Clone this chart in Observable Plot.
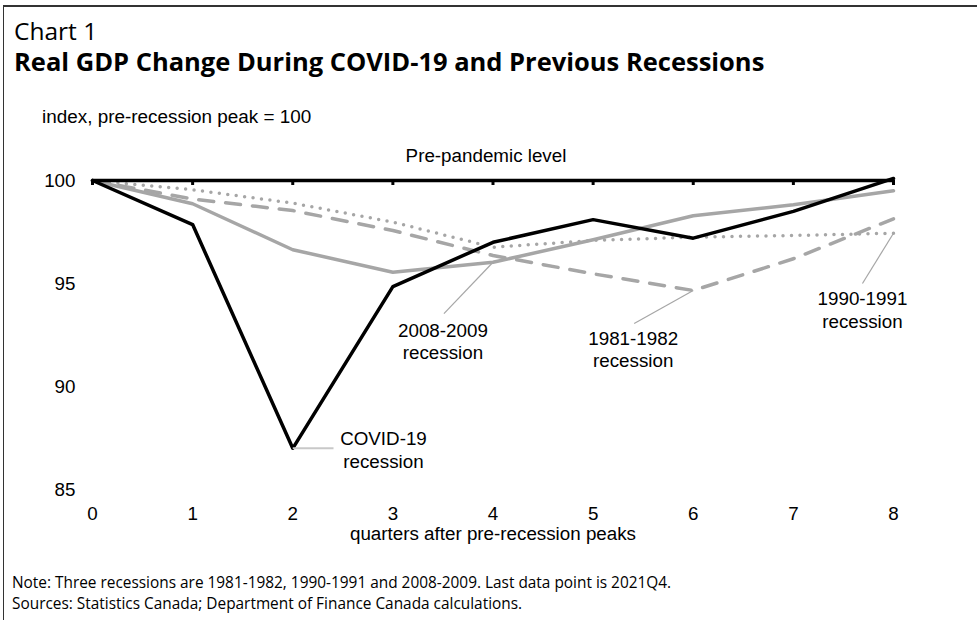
<!DOCTYPE html>
<html>
<head>
<meta charset="utf-8">
<script src="https://cdn.jsdelivr.net/npm/d3@7"></script>
<script src="https://cdn.jsdelivr.net/npm/@observablehq/plot@0.6"></script>
<style>
  html, body { margin: 0; padding: 0; background: #fff; }
  #wrap { position: relative; width: 977px; height: 620px; overflow: hidden; background: #fff; }
  #border { position: absolute; left: 3px; top: 5px; width: 1000px; height: 700px; border-left: 1.5px solid #333; border-top: 2px solid #333; box-sizing: border-box; }
  .t { position: absolute; white-space: nowrap; line-height: 1; color: #000; }
  #chartno { left: 14px; top: 14.2px; font: 24.5px "Open Sans", sans-serif; }
  #title { left: 14px; top: 44px; font: bold 25.5px "Open Sans", sans-serif; }
  #sub { left: 42px; top: 105.5px; font: 18.9px "Liberation Sans", Arial, sans-serif; }
  #note { left: 12px; top: 572.3px; font: 15.4px "Open Sans", sans-serif; }
  #src { left: 12px; top: 593.3px; font: 15.4px "Open Sans", sans-serif; }
  #plot { position: absolute; left: 0; top: 140px; }
</style>
</head>
<body>
<div id="wrap">
  <div id="border"></div>
  <div class="t" id="chartno">Chart 1</div>
  <div class="t" id="title">Real GDP Change During COVID-19 and Previous Recessions</div>
  <div class="t" id="sub">index, pre-recession peak = 100</div>
  <div id="plot"></div>
  <div class="t" id="note">Note: Three recessions are 1981-1982, 1990-1991 and 2008-2009. Last data point is 2021Q4.</div>
  <div class="t" id="src">Sources: Statistics Canada; Department of Finance Canada calculations.</div>
</div>
<script>
// ---- data ----
const quarters = [0, 1, 2, 3, 4, 5, 6, 7, 8];
const yTicks = [85, 90, 95, 100];
const seriesNames = ["1981-1982", "1990-1991", "2008-2009", "COVID-19"];
const rec1981 = [100, 99.1, 98.54, 97.57, 96.36, 95.47, 94.66, 96.2, 98.14];
const rec1990 = [100, 99.55, 98.9, 97.98, 96.76, 97.09, 97.25, 97.33, 97.44];
const rec2008 = [100, 98.87, 96.64, 95.55, 96.03, 97.12, 98.29, 98.82, 99.5];
const covid   = [100, 97.86, 87.0, 94.85, 97.0, 98.1, 97.2, 98.5, 100.1];
const prePandemicLevel = 100;
const prePandemicLabel = "Pre-pandemic level";
const xLabel = "quarters after pre-recession peaks";

// annotations: label text, series, quarter of the pointed-at value, label centre, leader end
const annoLabels  = ["COVID-19\nrecession", "2008-2009\nrecession", "1981-1982\nrecession", "1990-1991\nrecession"];
const annoSeries  = ["COVID-19", "2008-2009", "1981-1982", "1990-1991"];
const annoQuarter = [2, 4, 6, 8];
const annoTextX   = [2.906, 3.50, 5.40, 7.69];
const annoTextY   = [86.94, 92.23, 91.82, 93.74];
const leaderEndX  = [2.407, 3.51, 5.41, 7.69];
const leaderEndY  = [87.0, 93.54, 93.06, 95.0];
const leaderColor = ["#c8c8c8", "#a6a6a6", "#a6a6a6", "#a6a6a6"];
const leaderWidth = [2, 1.2, 1.2, 1.2];

// ---- build tables ----
const valuesBySeries = {"1981-1982": rec1981, "1990-1991": rec1990, "2008-2009": rec2008, "COVID-19": covid};
const table = seriesNames.flatMap(s => quarters.map((q, i) => ({series: s, q, v: valuesBySeries[s][i]})));
const annotations = annoLabels.map((label, i) => ({
  label,
  tx: annoTextX[i], ty: annoTextY[i],
  lx: leaderEndX[i], ly: leaderEndY[i],
  px: annoQuarter[i], py: valuesBySeries[annoSeries[i]][quarters.indexOf(annoQuarter[i])],
  lc: leaderColor[i], lw: leaderWidth[i]
}));

const gray = "#a6a6a6";
const sel = s => table.filter(d => d.series === s);

const chart = Plot.plot({
  width: 977,
  height: 410,
  marginLeft: 92,
  marginRight: 84,
  marginTop: 40,
  marginBottom: 61,
  x: {domain: [0, 8], label: null},
  y: {domain: [85, 100], label: null},
  style: {fontFamily: "'Liberation Sans', Arial, sans-serif", fontSize: "18.8px", color: "#000", background: "transparent", overflow: "visible"},
  marks: [
    Plot.axisY(yTicks, {tickSize: 0, tickPadding: 17, label: null}),
    Plot.axisX(quarters, {tickSize: 0, tickPadding: 17, label: null}),
    Plot.text([xLabel], {frameAnchor: "bottom", dy: 44, text: d => d, lineAnchor: "middle"}),
    Plot.line(sel("1981-1982"), {x: "q", y: "v", stroke: gray, strokeWidth: 3.5, strokeDasharray: "15,12", strokeLinejoin: "round"}),
    Plot.line(sel("1990-1991"), {x: "q", y: "v", stroke: gray, strokeWidth: 3.5, strokeDasharray: "0,8.5", strokeLinecap: "round", strokeLinejoin: "round"}),
    Plot.line(sel("2008-2009"), {x: "q", y: "v", stroke: gray, strokeWidth: 3.5, strokeLinejoin: "round"}),
    Plot.ruleY([prePandemicLevel], {stroke: "#000", strokeWidth: 3.5}),
    Plot.ruleX(quarters, {x: d => d, y1: prePandemicLevel, y2: prePandemicLevel, insetBottom: -5, stroke: "#000", strokeWidth: 3}),
    Plot.text([prePandemicLabel], {x: 3.93, y: prePandemicLevel, dy: -25, text: d => d, lineAnchor: "middle"}),
    Plot.line(sel("COVID-19"), {x: "q", y: "v", stroke: "#000", strokeWidth: 3.5, strokeLinejoin: "round"}),
    Plot.link(annotations, {x1: "px", y1: "py", x2: "lx", y2: "ly", stroke: d => d.lc, strokeWidth: d => d.lw}),
    Plot.text(annotations, {x: "tx", y: "ty", text: "label", lineHeight: 1.2, lineAnchor: "middle"})
  ]
});
document.getElementById("plot").appendChild(chart);
</script>
</body>
</html>
